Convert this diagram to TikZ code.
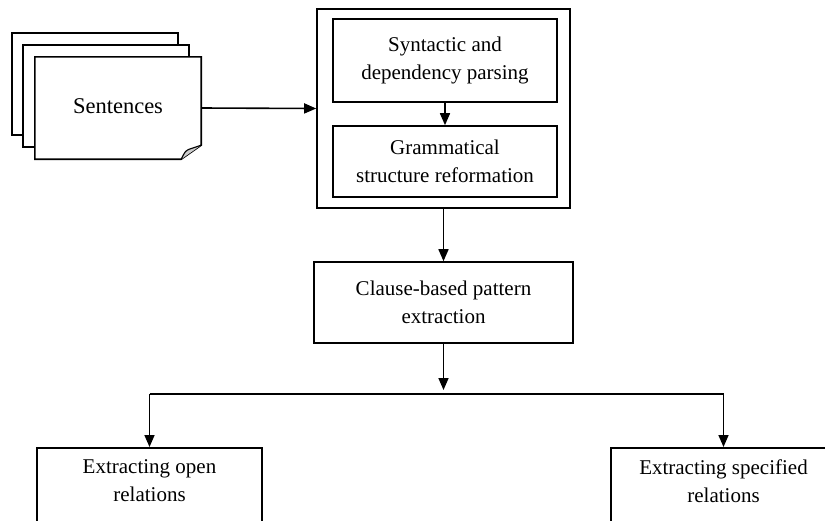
\documentclass[tikz,border=0pt]{standalone}
\usepackage{fontspec}
\setmainfont{Liberation Serif}
\newfontfamily\diagfont{Liberation Serif}
\usetikzlibrary{arrows.meta,calc}
\begin{document}
\begin{tikzpicture}[x=1pt,y=-1pt,
  box/.style={draw, line width=1.6pt, fill=white, align=center, inner sep=0pt,
    font=\diagfont\fontsize{21}{28}\selectfont},
  txt/.style={align=center, inner sep=0pt, font=\diagfont\fontsize{21}{28}\selectfont},
  conn/.style={line width=1.6pt, -{Triangle[length=12pt,width=10pt]}},
  line/.style={line width=1.6pt},
  page/.style={draw, line width=1.6pt, fill=white}]
\useasboundingbox (0,0) rectangle (825,520);
\clip (0,0) rectangle (825,520);
% stacked pages
\draw[page] (12,33) rectangle (178,135);
\draw[page] (23,45) rectangle (189,147);
\node[minimum width=166, minimum height=102, inner sep=0pt] (sent) at (118,108) {};
\draw[page] (sent.north west) -- (sent.north east) -- ($(sent.south east)+(0,-14)$)
  -- ($(sent.south east)+(-20,0)$) -- (sent.south west) -- cycle;
\draw[line width=1.1pt, fill=gray!40] ($(sent.south east)+(-20,0)$)
  .. controls ($(sent.south east)+(-16,-8)$) .. ($(sent.south east)+(-12,-10)$)
  -- ($(sent.south east)+(0,-14)$);
\node[txt, font=\diagfont\fontsize{22.5}{28}\selectfont] (senttext) at (118,106) {Sentences};
% preprocessing block
\node[box, minimum width=253, minimum height=199] (outer) at (443.5,108.5) {};
\node[box, minimum width=224, minimum height=83] (syn) at (445,60.5) {Syntactic and\\dependency parsing};
\node[box, minimum width=224, minimum height=71] (gram) at (445,161.5) {Grammatical\\structure reformation};
% clause extraction
\node[box, minimum width=259, minimum height=81] (clause) at (443.5,302.5) {Clause-based pattern\\extraction};
% bottom boxes
\node[box, anchor=north, minimum width=225, minimum height=120] (open) at (149.5,447) {};
\node[txt] (opentext) at (149.5,481) {Extracting open\\relations};
\node[box, anchor=north, minimum width=225, minimum height=120] (spec) at (723.5,447) {};
\node[txt] (spectext) at (723.5,481) {Extracting specified\\relations};
% connectors
\coordinate (split) at (443.5,394);
\coordinate (lt) at (149.5,394);
\coordinate (rt) at (723.5,394);
\draw[conn] (sent.east) -- (outer.west);
\draw[conn] (syn.south) -- (gram.north);
\draw[conn] (outer.south) -- (clause.north);
\draw[conn] (clause.south) -- ([yshift=4pt]split);
\draw[line] (lt) -- (rt);
\draw[conn] (lt) -- (open.north);
\draw[conn] (rt) -- (spec.north);
\end{tikzpicture}
\end{document}
